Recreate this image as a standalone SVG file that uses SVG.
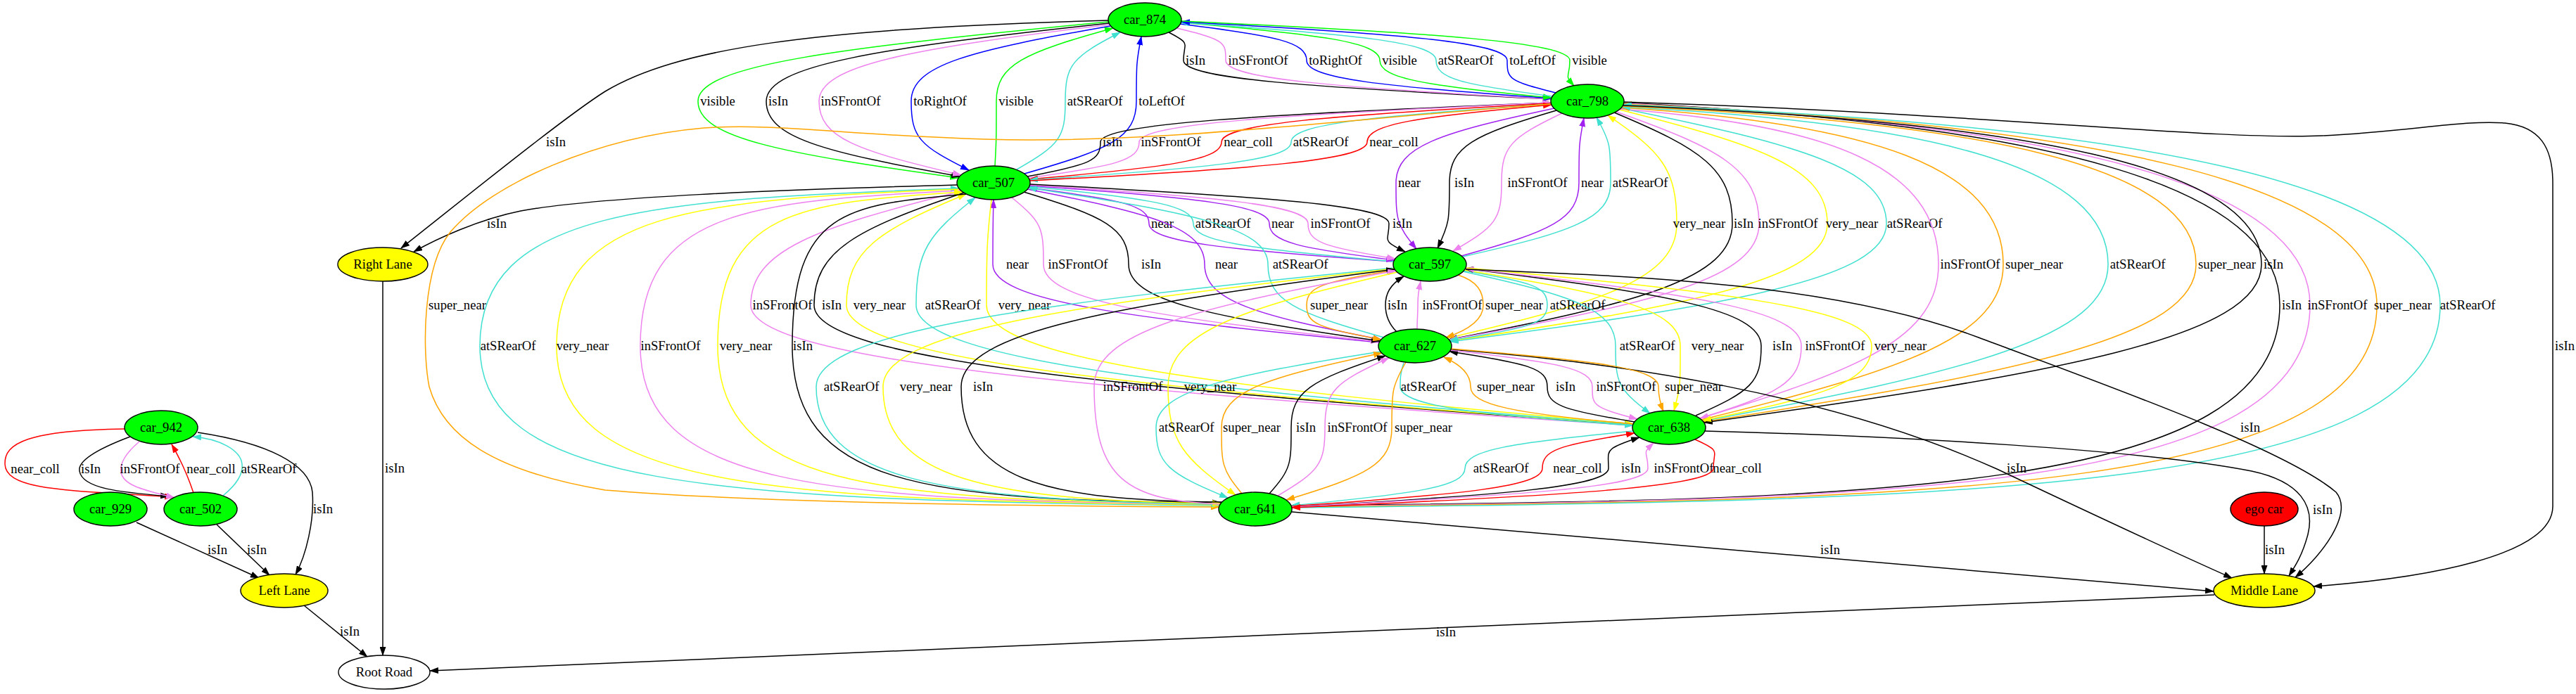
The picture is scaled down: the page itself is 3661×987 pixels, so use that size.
<svg xmlns="http://www.w3.org/2000/svg" width="3661" height="987" viewBox="0 0 3661 987">
<style>
.e{fill:none;stroke-width:1.5}
.k{stroke:#000}.r{stroke:#f00}.g{stroke:#0f0}.b{stroke:#00f}.v{stroke:#ee82ee}.t{stroke:#40e0d0}.p{stroke:#a020f0}.o{stroke:#ffa500}.y{stroke:#ff0}
text{font-family:"Liberation Serif","Times New Roman",serif;font-size:18.67px;text-anchor:middle;fill:#000}
.n{stroke:#000;stroke-width:1.4}
</style>
<defs>
<marker id="ak" viewBox="0 0 13 9" refX="12" refY="4.5" markerWidth="13" markerHeight="9" markerUnits="userSpaceOnUse" orient="auto-start-reverse"><path d="M0,0L13,4.5L0,9z" fill="#000"/></marker>
<marker id="ar" viewBox="0 0 13 9" refX="12" refY="4.5" markerWidth="13" markerHeight="9" markerUnits="userSpaceOnUse" orient="auto-start-reverse"><path d="M0,0L13,4.5L0,9z" fill="#f00"/></marker>
<marker id="ag" viewBox="0 0 13 9" refX="12" refY="4.5" markerWidth="13" markerHeight="9" markerUnits="userSpaceOnUse" orient="auto-start-reverse"><path d="M0,0L13,4.5L0,9z" fill="#0f0"/></marker>
<marker id="ab" viewBox="0 0 13 9" refX="12" refY="4.5" markerWidth="13" markerHeight="9" markerUnits="userSpaceOnUse" orient="auto-start-reverse"><path d="M0,0L13,4.5L0,9z" fill="#00f"/></marker>
<marker id="av" viewBox="0 0 13 9" refX="12" refY="4.5" markerWidth="13" markerHeight="9" markerUnits="userSpaceOnUse" orient="auto-start-reverse"><path d="M0,0L13,4.5L0,9z" fill="#ee82ee"/></marker>
<marker id="at" viewBox="0 0 13 9" refX="12" refY="4.5" markerWidth="13" markerHeight="9" markerUnits="userSpaceOnUse" orient="auto-start-reverse"><path d="M0,0L13,4.5L0,9z" fill="#40e0d0"/></marker>
<marker id="ap" viewBox="0 0 13 9" refX="12" refY="4.5" markerWidth="13" markerHeight="9" markerUnits="userSpaceOnUse" orient="auto-start-reverse"><path d="M0,0L13,4.5L0,9z" fill="#a020f0"/></marker>
<marker id="ao" viewBox="0 0 13 9" refX="12" refY="4.5" markerWidth="13" markerHeight="9" markerUnits="userSpaceOnUse" orient="auto-start-reverse"><path d="M0,0L13,4.5L0,9z" fill="#ffa500"/></marker>
<marker id="ay" viewBox="0 0 13 9" refX="12" refY="4.5" markerWidth="13" markerHeight="9" markerUnits="userSpaceOnUse" orient="auto-start-reverse"><path d="M0,0L13,4.5L0,9z" fill="#ff0"/></marker>
</defs>
<rect width="3661" height="987" fill="#fff"/>
<g id="edges">
<!-- 874 <-> 798 -->
<path class="e k" d="M1661,46 C1694,63 1682,60 1682,86 C1682,112 1860,124 2204,141" marker-end="url(#ak)"/><text x="1699" y="92">isIn</text>
<path class="e v" d="M1673,40 C1742,57 1742,60 1742,86 C1742,112 1896,124 2204,141" marker-end="url(#av)"/><text x="1788" y="92">inSFrontOf</text>
<path class="e b" d="M1677,34 C1815,51 1857,60 1857,86 C1857,112 1966,123 2205,140" marker-end="url(#ab)"/><text x="1898" y="92">toRightOf</text>
<path class="e g" d="M1678,32 C1878,49 1961,60 1961,86 C1961,112 2028,122 2205,139" marker-end="url(#ag)"/><text x="1989" y="92">visible</text>
<path class="e t" d="M1678,32 C1926,49 2041,60 2041,86 C2041,112 2077,120 2206,137" marker-start="url(#at)"/><text x="2083" y="92">atSRearOf</text>
<path class="e b" d="M1679,31 C1988,48 2142,60 2142,86 C2142,112 2143,115 2211,132" marker-start="url(#ab)"/><text x="2178" y="92">toLeftOf</text>
<path class="e g" d="M1679,30 C2041,47 2231,60 2231,86 C2231,112 2222,105 2237,122" marker-end="url(#ag)"/><text x="2259" y="92">visible</text>
<!-- 874 <-> 507 -->
<path class="e g" d="M1575,31 C1195,68 992,92 992,144 C992,196 1110,218 1362,253" marker-end="url(#ag)"/><text x="1020" y="150">visible</text>
<path class="e k" d="M1576,33 C1253,68 1089,92 1089,144 C1089,196 1170,216 1364,251" marker-end="url(#ak)"/><text x="1106" y="150">isIn</text>
<path class="e v" d="M1577,35 C1299,69 1164,92 1164,144 C1164,196 1217,214 1366,249" marker-end="url(#av)"/><text x="1209" y="150">inSFrontOf</text>
<path class="e b" d="M1578,37 C1379,72 1295,92 1295,144 C1295,196 1307,207 1377,242" marker-end="url(#ab)"/><text x="1336" y="150">toRightOf</text>
<path class="e g" d="M1582,40 C1455,75 1416,92 1416,144 C1416,196 1416,201 1414,236" marker-start="url(#ag)"/><text x="1444" y="150">visible</text>
<path class="e t" d="M1592,46 C1524,81 1514,92 1514,144 C1514,196 1506,206 1445,241" marker-start="url(#at)"/><text x="1556" y="150">atSRearOf</text>
<path class="e b" d="M1622,52 C1615,87 1615,92 1615,144 C1615,196 1578,212 1456,247" marker-start="url(#ab)"/><text x="1651" y="150">toLeftOf</text>
<!-- to Right Lane -->
<path class="e k" d="M1575,29 C1150,40 960,70 860,130 C800,168 650,290 570,353" marker-end="url(#ak)"/><text x="790" y="208">isIn</text>
<path class="e k" d="M1360,263 C1100,270 850,280 740,300 C680,312 620,340 588,358" marker-end="url(#ak)"/><text x="706" y="324">isIn</text>
<!-- 798 <-> 507 -->
<path class="e k" d="M2204,146 C1789,163 1564,176 1564,202 C1564,228 1551,234 1460,251" marker-start="url(#ak)"/><text x="1581" y="208">isIn</text>
<path class="e v" d="M2204,146 C1822,163 1619,176 1619,202 C1619,228 1586,236 1462,253" marker-start="url(#av)"/><text x="1664" y="208">inSFrontOf</text>
<path class="e r" d="M2204,147 C1892,164 1736,176 1736,202 C1736,228 1657,238 1463,255" marker-end="url(#ar)"/><text x="1774" y="208">near_coll</text>
<path class="e t" d="M2205,148 C1952,165 1835,176 1835,202 C1835,228 1717,239 1463,256" marker-end="url(#at)"/><text x="1877" y="208">atSRearOf</text>
<path class="e r" d="M2205,149 C2017,166 1943,176 1943,202 C1943,228 1783,240 1464,257" marker-start="url(#ar)"/><text x="1981" y="208">near_coll</text>
<!-- 798 <-> 641 -->
<path class="e o" d="M2204,148 C1900,170 1650,205 1400,198 C1200,192 1100,175 1000,182 C850,195 700,260 640,330 C600,380 600,500 610,550 C630,620 700,670 860,697 C1100,717 1500,720 1733,721" marker-end="url(#ao)"/><text x="650" y="440">super_near</text>
<path class="e k" d="M2307,146 C2897,177 3240,260 3240,434 C3240,700 2679,712 1835,719" marker-end="url(#ak)"/><text x="3257" y="440">isIn</text>
<path class="e v" d="M2307,147 C2923,177 3283,260 3283,434 C3283,700 2704,712 1835,720" marker-end="url(#av)"/><text x="3322" y="440">inSFrontOf</text>
<path class="e o" d="M2307,148 C2980,177 3378,260 3378,434 C3378,700 2761,712 1836,721" marker-start="url(#ao)"/><text x="3415" y="440">super_near</text>
<path class="e t" d="M2307,149 C3034,177 3468,260 3468,434 C3468,700 2815,712 1836,722" marker-start="url(#at)"/><text x="3507" y="440">atSRearOf</text>
<!-- 798 <-> 597 -->
<path class="e p" d="M2209,154 C2046,189 1984,208 1984,260 C1984,312 1984,319 2013,354" marker-end="url(#ap)"/><text x="2003" y="266">near</text>
<path class="e k" d="M2212,157 C2094,192 2060,208 2060,260 C2060,312 2060,318 2043,353" marker-end="url(#ak)"/><text x="2081" y="266">isIn</text>
<path class="e v" d="M2220,161 C2147,196 2134,208 2134,260 C2134,312 2126,322 2065,357" marker-end="url(#av)"/><text x="2185" y="266">inSFrontOf</text>
<path class="e p" d="M2251,168 C2244,203 2244,208 2244,260 C2244,312 2204,329 2077,364" marker-start="url(#ap)"/><text x="2263" y="266">near</text>
<path class="e t" d="M2269,167 C2289,202 2289,208 2289,260 C2289,312 2233,330 2079,365" marker-start="url(#at)"/><text x="2331" y="266">atSRearOf</text>
<!-- 798 <-> 627 -->
<path class="e y" d="M2285,164 C2361,216 2383,240 2383,318 C2383,396 2280,429 2057,481" marker-start="url(#ay)"/><text x="2415" y="324">very_near</text>
<path class="e k" d="M2294,160 C2418,212 2462,240 2462,318 C2462,396 2330,431 2059,483" marker-end="url(#ak)"/><text x="2478" y="324">isIn</text>
<path class="e v" d="M2297,159 C2443,211 2500,240 2500,318 C2500,396 2353,431 2060,483" marker-end="url(#av)"/><text x="2541" y="324">inSFrontOf</text>
<path class="e y" d="M2302,156 C2507,208 2597,240 2597,318 C2597,396 2413,433 2061,485" marker-end="url(#ay)"/><text x="2632" y="324">very_near</text>
<path class="e t" d="M2304,154 C2559,206 2681,240 2681,318 C2681,396 2463,434 2061,486" marker-end="url(#at)"/><text x="2721" y="324">atSRearOf</text>
<!-- 798 <-> 638 -->
<path class="e v" d="M2302,155 C2601,178 2755,237 2755,376 C2755,480 2646,525 2416,595" marker-end="url(#av)"/><text x="2800" y="382">inSFrontOf</text>
<path class="e o" d="M2304,153 C2659,176 2847,237 2847,376 C2847,480 2703,527 2418,597" marker-start="url(#ao)"/><text x="2891" y="382">super_near</text>
<path class="e t" d="M2305,152 C2749,175 2996,237 2996,376 C2996,480 2794,529 2420,599" marker-start="url(#at)"/><text x="3038" y="382">atSRearOf</text>
<path class="e o" d="M2306,151 C2825,174 3121,237 3121,376 C3121,480 2870,530 2421,600" marker-end="url(#ao)"/><text x="3165" y="382">super_near</text>
<path class="e k" d="M2306,150 C2881,173 3214,237 3214,376 C3214,480 2927,531 2422,601" marker-end="url(#ak)"/><text x="3231" y="382">isIn</text>
<!-- 798 -> Middle Lane -->
<path class="e k" d="M2307,145 C2800,160 3150,200 3300,193 C3420,188 3500,170 3560,175 C3610,180 3628,210 3628,260 L3628,720 C3628,790 3450,822 3288,834" marker-end="url(#ak)"/><text x="3645" y="498">isIn</text>
<!-- 507 <-> 597 -->
<path class="e p" d="M1462,267 C1595,284 1633,292 1633,318 C1633,344 1741,355 1981,372" marker-start="url(#ap)"/><text x="1652" y="324">near</text>
<path class="e t" d="M1463,265 C1633,282 1696,292 1696,318 C1696,344 1779,354 1981,372" marker-start="url(#at)"/><text x="1738" y="324">atSRearOf</text>
<path class="e p" d="M1463,264 C1698,281 1804,292 1804,318 C1804,344 1845,353 1982,370" marker-end="url(#ap)"/><text x="1823" y="324">near</text>
<path class="e v" d="M1463,263 C1731,280 1859,292 1859,318 C1859,344 1879,351 1983,368" marker-end="url(#av)"/><text x="1905" y="324">inSFrontOf</text>
<path class="e k" d="M1464,262 C1801,280 1974,292 1974,318 C1974,344 1962,341 1997,358" marker-end="url(#ak)"/><text x="1993" y="324">isIn</text>
<!-- 507 <-> 627 -->
<path class="e p" d="M1412,284 C1411,319 1411,324 1411,376 C1411,428 1600,452 1960,487" marker-start="url(#ap)"/><text x="1446" y="382">near</text>
<path class="e v" d="M1438,281 C1481,316 1483,324 1483,376 C1483,428 1643,451 1960,486" marker-end="url(#av)"/><text x="1532" y="382">inSFrontOf</text>
<path class="e k" d="M1455,273 C1570,308 1604,324 1604,376 C1604,428 1717,450 1961,485" marker-end="url(#ak)"/><text x="1636" y="382">isIn</text>
<path class="e p" d="M1460,269 C1640,304 1712,324 1712,376 C1712,428 1784,448 1963,483" marker-end="url(#ap)"/><text x="1743" y="382">near</text>
<path class="e t" d="M1461,267 C1695,302 1802,324 1802,376 C1802,428 1842,445 1967,480" marker-start="url(#at)"/><text x="1848" y="382">atSRearOf</text>
<!-- 507 <-> 638 -->
<path class="e v" d="M1366,272 C1159,324 1067,356 1067,434 C1067,512 1538,553 2321,605" marker-end="url(#av)"/><text x="1112" y="440">inSFrontOf</text>
<path class="e k" d="M1370,274 C1217,326 1157,356 1157,434 C1157,512 1592,552 2321,604" marker-end="url(#ak)"/><text x="1182" y="440">isIn</text>
<path class="e y" d="M1373,276 C1248,328 1203,356 1203,434 C1203,512 1620,552 2321,604" marker-start="url(#ay)"/><text x="1250" y="440">very_near</text>
<path class="e t" d="M1386,281 C1320,333 1302,356 1302,434 C1302,512 1679,552 2321,604" marker-start="url(#at)"/><text x="1354" y="440">atSRearOf</text>
<path class="e y" d="M1409,284 C1403,336 1402,356 1402,434 C1402,512 1739,551 2321,603" marker-end="url(#ay)"/><text x="1456" y="440">very_near</text>
<!-- 507 <-> 641 -->
<path class="e t" d="M1363,268 C925,283 682,300 682,492 C682,690 997,712 1733,719" marker-start="url(#at)"/><text x="722" y="498">atSRearOf</text>
<path class="e y" d="M1364,269 C991,284 791,300 791,492 C791,690 1074,712 1734,718" marker-end="url(#ay)"/><text x="828" y="498">very_near</text>
<path class="e v" d="M1365,271 C1064,286 910,300 910,492 C910,690 1157,712 1734,717" marker-end="url(#av)"/><text x="953" y="498">inSFrontOf</text>
<path class="e y" d="M1368,273 C1133,288 1020,300 1020,492 C1020,690 1235,712 1735,716" marker-start="url(#ay)"/><text x="1060" y="498">very_near</text>
<path class="e k" d="M1373,276 C1201,291 1126,300 1126,492 C1126,690 1309,712 1735,715" marker-end="url(#ak)"/><text x="1141" y="498">isIn</text>
<!-- 597 <-> 627 -->
<path class="e o" d="M1983,384 C1878,401 1857,408 1857,434 C1857,460 1871,466 1963,483" marker-end="url(#ao)"/><text x="1903" y="440">super_near</text>
<path class="e k" d="M1995,393 C1975,405 1969,418 1969,434 C1969,450 1975,462 1985,472" marker-start="url(#ak)"/><text x="1986" y="440">isIn</text>
<path class="e v" d="M2019,400 C2016,415 2015,420 2015,434 C2015,448 2014,455 2014,468" marker-start="url(#av)"/><text x="2064" y="440">inSFrontOf</text>
<path class="e o" d="M2072,391 C2100,400 2108,415 2108,434 C2108,455 2085,470 2055,480" marker-end="url(#ao)"/><text x="2152" y="440">super_near</text>
<path class="e t" d="M2081,385 C2181,402 2199,408 2199,434 C2199,460 2173,467 2060,484" marker-end="url(#at)"/><text x="2242" y="440">atSRearOf</text>
<!-- 597 <-> 638 -->
<path class="e t" d="M2079,386 C2237,421 2296,440 2296,492 C2296,544 2299,553 2345,588" marker-end="url(#at)"/><text x="2341" y="498">atSRearOf</text>
<path class="e y" d="M2081,384 C2295,419 2388,440 2388,492 C2388,544 2389,549 2379,584" marker-end="url(#ay)"/><text x="2441" y="498">very_near</text>
<path class="e k" d="M2082,382 C2365,417 2503,440 2503,492 C2503,544 2489,556 2410,591" marker-start="url(#ak)"/><text x="2533" y="498">isIn</text>
<path class="e v" d="M2083,382 C2400,417 2560,440 2560,492 C2560,544 2528,560 2415,595" marker-start="url(#av)"/><text x="2608" y="498">inSFrontOf</text>
<path class="e y" d="M2084,381 C2461,416 2660,440 2660,492 C2660,544 2593,563 2420,598" marker-end="url(#ay)"/><text x="2701" y="498">very_near</text>
<!-- 597 <-> 641 -->
<path class="e t" d="M1981,381 C1458,433 1160,472 1160,550 C1160,680 1332,712 1734,717" marker-end="url(#at)"/><text x="1210" y="556">atSRearOf</text>
<path class="e y" d="M1982,382 C1516,434 1255,472 1255,550 C1255,680 1399,712 1735,716" marker-end="url(#ay)"/><text x="1316" y="556">very_near</text>
<path class="e k" d="M1982,383 C1582,435 1366,472 1366,550 C1366,680 1477,712 1737,714" marker-start="url(#ak)"/><text x="1397" y="556">isIn</text>
<path class="e v" d="M1984,385 C1698,437 1555,472 1555,550 C1555,680 1600,712 1734,717" marker-start="url(#av)"/><text x="1610" y="556">inSFrontOf</text>
<path class="e y" d="M1986,387 C1763,439 1660,472 1660,550 C1660,628 1682,652 1756,704" marker-end="url(#ay)"/><text x="1720" y="556">very_near</text>
<!-- to Middle Lane -->
<path class="e k" d="M2083,383 C2300,392 2600,400 2812,480 C3000,550 3250,640 3320,700 C3345,730 3300,790 3262,821" marker-end="url(#ak)"/><text x="3198" y="614">isIn</text>
<path class="e k" d="M2062,497 C2300,515 2600,560 2838,667 C2950,720 3100,790 3172,822" marker-end="url(#ak)"/><text x="2866" y="672">isIn</text>
<path class="e k" d="M2422,613 C2700,620 3050,640 3200,670 C3270,685 3290,720 3280,760 C3272,790 3262,805 3253,819" marker-end="url(#ak)"/><text x="3301" y="731">isIn</text>
<!-- 627 <-> 638 -->
<path class="e t" d="M1995,516 C1990,530 1990,540 1990,550 C1990,576 2092,590 2321,605" marker-end="url(#at)"/><text x="2030" y="556">atSRearOf</text>
<path class="e o" d="M2052,508 C2075,518 2090,532 2090,550 C2090,576 2152,588 2321,603" marker-start="url(#ao)"/><text x="2140" y="556">super_near</text>
<path class="e k" d="M2060,500 C2173,517 2199,524 2199,550 C2199,576 2219,583 2323,600" marker-start="url(#ak)"/><text x="2225" y="556">isIn</text>
<path class="e v" d="M2061,498 C2212,515 2263,524 2263,550 C2263,576 2262,579 2327,596" marker-end="url(#av)"/><text x="2311" y="556">inSFrontOf</text>
<path class="e o" d="M2062,496 C2270,513 2357,524 2357,550 C2357,565 2360,575 2364,585" marker-end="url(#ao)"/><text x="2407" y="556">super_near</text>
<!-- 627 <-> 641 -->
<path class="e t" d="M1962,500 C1741,535 1643,556 1643,608 C1643,660 1660,673 1745,708" marker-end="url(#at)"/><text x="1686" y="614">atSRearOf</text>
<path class="e o" d="M1964,502 C1799,537 1736,556 1736,608 C1736,660 1736,667 1765,702" marker-start="url(#ao)"/><text x="1779" y="614">super_near</text>
<path class="e k" d="M1969,506 C1863,541 1835,556 1835,608 C1835,660 1835,667 1804,702" marker-start="url(#ak)"/><text x="1856" y="614">isIn</text>
<path class="e v" d="M1974,509 C1897,544 1883,556 1883,608 C1883,660 1875,670 1816,705" marker-start="url(#av)"/><text x="1929" y="614">inSFrontOf</text>
<path class="e o" d="M1998,515 C1978,550 1978,556 1978,608 C1978,660 1944,676 1828,711" marker-end="url(#ao)"/><text x="2023" y="614">super_near</text>
<!-- 638 <-> 641 -->
<path class="e t" d="M2321,613 C2147,630 2082,640 2082,666 C2082,692 2014,702 1835,719" marker-end="url(#at)"/><text x="2133" y="672">atSRearOf</text>
<path class="e r" d="M2323,616 C2215,633 2192,640 2192,666 C2192,692 2080,703 1835,720" marker-start="url(#ar)"/><text x="2242" y="672">near_coll</text>
<path class="e k" d="M2330,622 C2278,639 2286,640 2286,666 C2286,692 2137,704 1836,721" marker-start="url(#ak)"/><text x="2318" y="672">isIn</text>
<path class="e v" d="M2350,630 C2332,647 2342,640 2342,666 C2342,692 2171,704 1836,721" marker-start="url(#av)"/><text x="2393" y="672">inSFrontOf</text>
<path class="e r" d="M2409,625 C2447,642 2435,640 2435,666 C2435,692 2227,705 1836,722" marker-end="url(#ar)"/><text x="2469" y="672">near_coll</text>
<!-- lanes -->
<path class="e k" d="M1836,728 L3146,841" marker-end="url(#ak)"/><text x="2601" y="788">isIn</text>
<path class="e k" d="M3218,748 L3218,816" marker-end="url(#ak)"/><text x="3233" y="788">isIn</text>
<path class="e k" d="M3147,846 L611,954" marker-end="url(#ak)"/><text x="2055" y="905">isIn</text>
<path class="e k" d="M544,400 L544,932" marker-end="url(#ak)"/><text x="561" y="672">isIn</text>
<path class="e k" d="M432,861 L522,934" marker-end="url(#ak)"/><text x="497" y="904">isIn</text>
<path class="e k" d="M281,615 C380,630 440,660 444,700 C447,740 435,790 420,817" marker-end="url(#ak)"/><text x="459" y="730">isIn</text>
<path class="e k" d="M194,743 L368,822" marker-end="url(#ak)"/><text x="309" y="788">isIn</text>
<path class="e k" d="M308,746 L383,818" marker-end="url(#ak)"/><text x="365" y="788">isIn</text>
<!-- 942 <-> 502 -->
<path class="e r" d="M177,610 C40,612 6,630 7,660 C8,700 110,697 246,707" marker-end="url(#ar)"/><text x="50" y="673">near_coll</text>
<path class="e k" d="M185,621 C140,638 110,655 113,670 C117,695 170,700 240,706" marker-end="url(#ak)"/><text x="129" y="673">isIn</text>
<path class="e v" d="M198,628 C178,645 170,660 172,672 C176,692 210,698 248,708" marker-end="url(#av)"/><text x="213" y="673">inSFrontOf</text>
<path class="e r" d="M275,701 C268,680 258,656 244,632" marker-end="url(#ar)"/><text x="300" y="673">near_coll</text>
<path class="e t" d="M317,705 C335,690 346,675 344,660 C342,640 312,624 274,621" marker-end="url(#at)"/><text x="382" y="673">atSRearOf</text>
</g>
<g id="node-car_874"><ellipse class="n" cx="1627" cy="28" rx="52" ry="24" fill="#0f0"/><text x="1627" y="34">car_874</text></g>
<g id="node-car_798"><ellipse class="n" cx="2256" cy="144" rx="52" ry="24" fill="#0f0"/><text x="2256" y="150">car_798</text></g>
<g id="node-car_507"><ellipse class="n" cx="1412" cy="260" rx="52" ry="24" fill="#0f0"/><text x="1412" y="266">car_507</text></g>
<g id="node-car_597"><ellipse class="n" cx="2032" cy="376" rx="52" ry="24" fill="#0f0"/><text x="2032" y="382">car_597</text></g>
<g id="node-car_627"><ellipse class="n" cx="2011" cy="492" rx="52" ry="24" fill="#0f0"/><text x="2011" y="498">car_627</text></g>
<g id="node-car_638"><ellipse class="n" cx="2372" cy="608" rx="52" ry="24" fill="#0f0"/><text x="2372" y="614">car_638</text></g>
<g id="node-car_641"><ellipse class="n" cx="1784" cy="724" rx="52" ry="24" fill="#0f0"/><text x="1784" y="730">car_641</text></g>
<g id="node-car_942"><ellipse class="n" cx="229" cy="608" rx="52" ry="24" fill="#0f0"/><text x="229" y="614">car_942</text></g>
<g id="node-car_929"><ellipse class="n" cx="157" cy="724" rx="52" ry="24" fill="#0f0"/><text x="157" y="730">car_929</text></g>
<g id="node-car_502"><ellipse class="n" cx="285" cy="724" rx="52" ry="24" fill="#0f0"/><text x="285" y="730">car_502</text></g>
<g id="node-ego_car"><ellipse class="n" cx="3218" cy="724" rx="48" ry="24" fill="#f00"/><text x="3218" y="730">ego car</text></g>
<g id="node-right_lane"><ellipse class="n" cx="544" cy="376" rx="64" ry="24" fill="#ff0"/><text x="544" y="382">Right Lane</text></g>
<g id="node-left_lane"><ellipse class="n" cx="404" cy="840" rx="62" ry="24" fill="#ff0"/><text x="404" y="846">Left Lane</text></g>
<g id="node-middle_lane"><ellipse class="n" cx="3218" cy="840" rx="72" ry="24" fill="#ff0"/><text x="3218" y="846">Middle Lane</text></g>
<g id="node-root_road"><ellipse class="n" cx="546" cy="956" rx="65" ry="24" fill="#fff"/><text x="546" y="962">Root Road</text></g>
</svg>
